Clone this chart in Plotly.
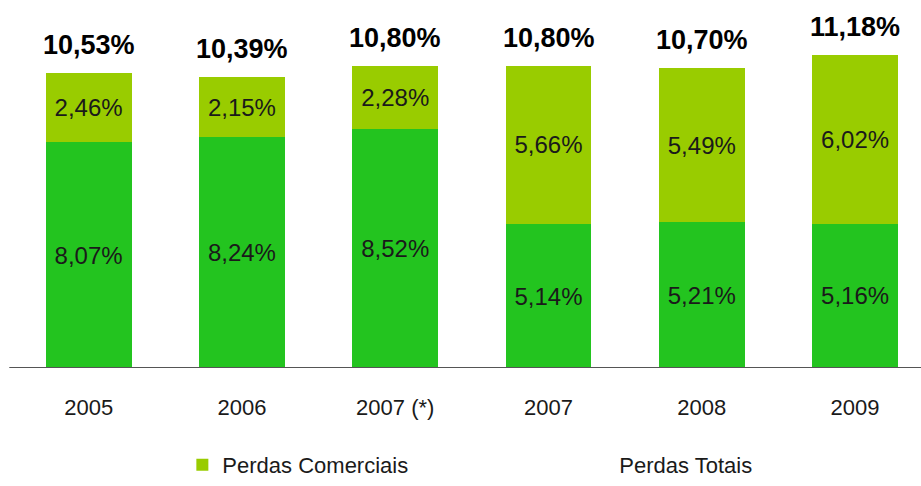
import plotly.graph_objects as go

categories = ["2005", "2006", "2007 (*)", "2007", "2008", "2009"]
perdas_tecnicas = [8.07, 8.24, 8.52, 5.14, 5.21, 5.16]
perdas_comerciais = [2.46, 2.15, 2.28, 5.66, 5.49, 6.02]
perdas_totais = [10.53, 10.39, 10.80, 10.80, 10.70, 11.18]

def fmt(v):
    return f"{v:.2f}%".replace(".", ",")

FONT = "Liberation Sans"
x = list(range(len(categories)))
fig = go.Figure()
fig.add_trace(go.Bar(
    x=x, y=perdas_tecnicas, name="Perdas Técnicas", showlegend=False,
    marker=dict(color="#23C41F", line=dict(width=0)),
    text=[fmt(v) for v in perdas_tecnicas], textposition="inside",
    insidetextanchor="middle", textangle=0,
    textfont=dict(family=FONT, size=24, color="#1a1a1a"),
))
fig.add_trace(go.Bar(
    x=x, y=perdas_comerciais, name="Perdas Comerciais", legend="legend",
    marker=dict(color="#99CC00", line=dict(width=0)),
    text=[fmt(v) for v in perdas_comerciais], textposition="inside",
    insidetextanchor="middle", textangle=0,
    textfont=dict(family=FONT, size=24, color="#1a1a1a"),
))
fig.add_trace(go.Scatter(
    x=x, y=perdas_totais, name="Perdas Totais", mode="markers", legend="legend2",
    marker=dict(color="rgba(0,0,0,0)", size=1),
    hoverinfo="skip",
))
for xi, t in zip(x, perdas_totais):
    fig.add_annotation(x=xi, y=t, text=f"<b>{fmt(t)}</b>", showarrow=False,
                       yanchor="bottom", yshift=11,
                       font=dict(family=FONT, size=27, color="#000000"))

legfont = dict(family=FONT, size=22, color="#1a1a1a")
fig.update_layout(
    width=921, height=486,
    margin=dict(l=12, r=0, t=0, b=118, autoexpand=False),
    paper_bgcolor="white", plot_bgcolor="white",
    barmode="stack", bargap=0.44,
    xaxis=dict(range=[-0.5, 5.43], tickvals=x, ticktext=categories,
               showgrid=False, zeroline=False, showline=False,
               tickfont=dict(family=FONT, size=22, color="#1a1a1a"),
               ticks="", ticklabelstandoff=24),
    yaxis=dict(range=[0, 368/28.0], visible=False, showgrid=False, zeroline=False),
    showlegend=True,
    legend=dict(xref="container", yref="container", x=0.198, y=0.0,
                xanchor="left", yanchor="bottom", font=legfont, itemwidth=30,
                bgcolor="rgba(0,0,0,0)"),
    legend2=dict(xref="container", yref="container", x=0.629, y=0.0,
                 xanchor="left", yanchor="bottom", font=legfont, itemwidth=30,
                 bgcolor="rgba(0,0,0,0)"),
    shapes=[dict(type="line", xref="paper", yref="y", x0=-0.003, x1=1, y0=0, y1=0,
                 line=dict(color="#555555", width=2))],
)
fig.write_html("out.html", config={"displayModeBar": False},
               post_script="document.body.style.margin='0';")
